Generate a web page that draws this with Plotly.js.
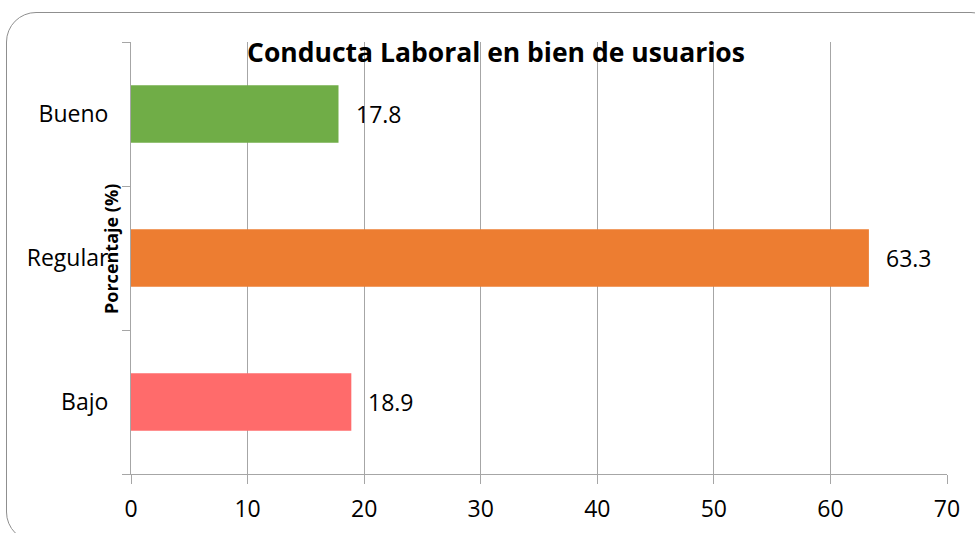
<!DOCTYPE html>
<html>
<head>
<meta charset="utf-8">
<script src="https://cdn.plot.ly/plotly-3.0.1.min.js"></script>
<style>
  html, body { margin: 0; padding: 0; background: #fff; overflow: hidden; }
  #wrap { position: relative; width: 975px; height: 533px; overflow: hidden; }
  #frame { position: absolute; left: 6px; top: 12px; width: 995px; height: 530px;
           border: 1.3px solid #8f8f8f; border-radius: 30px; box-sizing: border-box; pointer-events: none; z-index: 2; }
  #chart { position: absolute; left: 0; top: 0; width: 975px; height: 533px; }
</style>
</head>
<body>
<div id="wrap">
  <div id="chart"></div>
  <div id="frame"></div>
</div>
<script>
const categories = ["Bajo", "Regular", "Bueno"];
const values = [18.9, 63.3, 17.8];
const barColors = ["#FF6B6B", "#ED7D31", "#70AD47"];
const xTicks = [0, 10, 20, 30, 40, 50, 60, 70];
const chartTitle = "Conducta Laboral en bien de usuarios";
const yTitle = "Porcentaje (%)";

const font = "Open Sans, Noto Sans, sans-serif";

const trace = {
  type: "bar",
  orientation: "h",
  y: categories,
  x: values,
  marker: { color: barColors, line: { width: 0 } },
  width: 0.4,
  hoverinfo: "skip"
};

const valueLabels = categories.map((c, i) => ({
  x: values[i], y: c, xref: "x", yref: "y",
  text: values[i].toFixed(1),
  showarrow: false, xanchor: "left", yanchor: "middle", xshift: 15,
  font: { family: font, size: 23, color: "#000" }
}));

const layout = {
  width: 975, height: 533,
  margin: { l: 131, r: 28, t: 42, b: 59, pad: 0 },
  paper_bgcolor: "#fff", plot_bgcolor: "#fff",
  showlegend: false,
  bargap: 0.6,
  title: {
    text: "<b>" + chartTitle + "</b>",
    x: 496 / 975, xanchor: "center", xref: "container",
    y: 1 - 53 / 533, yanchor: "middle", yref: "container",
    font: { family: font, size: 26.5, color: "#000" }
  },
  xaxis: {
    range: [0, 70],
    tickvals: xTicks,
    ticktext: xTicks.map(String),
    showgrid: true, gridcolor: "#a6a6a6", gridwidth: 1,
    zeroline: false,
    showline: true, linecolor: "#a6a6a6", linewidth: 1,
    ticks: "outside", ticklen: 9, tickcolor: "#a6a6a6", tickwidth: 1,
    ticklabelstandoff: 5,
    tickfont: { family: font, size: 23, color: "#000" },
    fixedrange: true
  },
  yaxis: {
    type: "category",
    categoryorder: "array", categoryarray: categories,
    range: [-0.5, 2.5],
    showgrid: false, zeroline: false,
    showline: true, linecolor: "#a6a6a6", linewidth: 1,
    ticks: "outside", ticklen: 8, tickcolor: "#a6a6a6", tickwidth: 1,
    tickson: "boundaries",
    ticklabelstandoff: 17,
    tickfont: { family: font, size: 23, color: "#000" },
    fixedrange: true
  },
  annotations: valueLabels.concat([{
    text: "<b>" + yTitle + "</b>",
    xref: "paper", yref: "paper",
    x: (111 - 131) / 816, y: (474 - 249) / 432,
    xanchor: "center", yanchor: "middle",
    textangle: -90, showarrow: false,
    font: { family: font, size: 18, color: "#000" }
  }])
};

Plotly.newPlot("chart", [trace], layout, { displayModeBar: false, staticPlot: true });
</script>
</body>
</html>
